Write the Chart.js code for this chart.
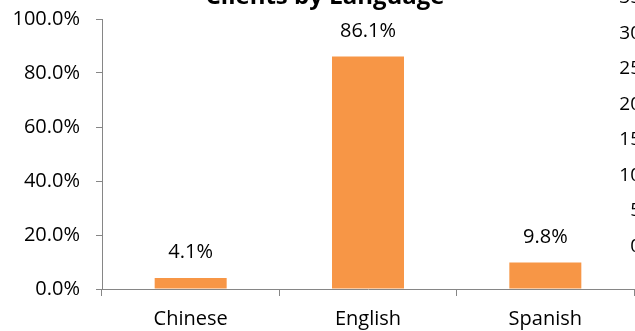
<!DOCTYPE html>
<html lang="en">
<head>
    <meta charset="UTF-8">
    <title>Clients by Language</title>
    <script src="https://cdn.jsdelivr.net/npm/chart.js"></script>
    <style>
        html, body { margin: 0; padding: 0; background: #fff; }
        .chart-wrapper { width: 635px; height: 331px; }
        canvas { width: 100% !important; height: 100% !important; }
    </style>
</head>
<body>
    <div class="chart-wrapper"><canvas id="chart"></canvas></div>

    <script>
        const titleText = 'Clients by Language';
        const languages = ['Chinese', 'English', 'Spanish'];
        const shares = [4.1, 86.1, 9.8];
        const yTicks = [0, 20, 40, 60, 80, 100];
        // axis labels of the next chart, cut off at the right edge
        const neighbourTicks = ['35', '30', '25', '20', '15', '10', '5', '0'];

        const font = '"Open Sans", sans-serif';
        const barColor = '#F79646';
        const axisColor = '#868686';

        // title sits half outside the picture, so draw it by hand
        const titlePlugin = {
            id: 'cutTitle',
            afterDraw(chart) {
                const ctx = chart.ctx;
                ctx.save();
                ctx.font = 'bold 24px ' + font;
                ctx.fillStyle = '#000';
                ctx.textAlign = 'center';
                ctx.textBaseline = 'alphabetic';
                ctx.fillText(titleText, 325, 4);
                ctx.restore();
            }
        };

        const valueLabels = {
            id: 'valueLabels',
            afterDatasetsDraw(chart) {
                const ctx = chart.ctx;
                const meta = chart.getDatasetMeta(0);
                ctx.save();
                ctx.font = '20px ' + font;
                ctx.fillStyle = '#000';
                ctx.textAlign = 'center';
                ctx.textBaseline = 'alphabetic';
                meta.data.forEach((bar, i) => {
                    ctx.fillText(shares[i].toFixed(1) + '%', bar.x, bar.y - 20);
                });
                ctx.restore();
            }
        };

        const neighbourAxis = {
            id: 'neighbourAxis',
            afterDraw(chart) {
                const ctx = chart.ctx;
                ctx.save();
                ctx.font = '19px ' + font;
                ctx.fillStyle = '#000';
                ctx.textAlign = 'right';
                ctx.textBaseline = 'middle';
                neighbourTicks.forEach((t, i) => {
                    ctx.fillText(t, 641, -2 + i * 35.5);
                });
                ctx.restore();
            }
        };

        new Chart(document.getElementById('chart'), {
            type: 'bar',
            data: {
                labels: languages,
                datasets: [{
                    data: shares,
                    backgroundColor: barColor,
                    borderWidth: 0,
                    barPercentage: 1,
                    categoryPercentage: 0.406
                }]
            },
            options: {
                responsive: true,
                maintainAspectRatio: false,
                animation: false,
                layout: { padding: { left: 10, right: 1, top: 19, bottom: 0 } },
                plugins: {
                    legend: { display: false },
                    title: { display: false },
                    tooltip: { enabled: false }
                },
                scales: {
                    x: {
                        afterFit(axis) { axis.height = 42; },
                        grid: {
                            offset: true,
                            drawOnChartArea: false,
                            drawTicks: true,
                            tickLength: 7,
                            color: axisColor
                        },
                        border: { color: axisColor, width: 1 },
                        ticks: {
                            color: '#000',
                            font: { family: font, size: 20 },
                            padding: 11
                        }
                    },
                    y: {
                        min: 0,
                        max: 100,
                        afterFit(axis) {
                            axis.width = 92;
                            axis.paddingTop = 0;
                            axis.paddingBottom = 0;
                        },
                        afterBuildTicks(axis) {
                            axis.ticks = yTicks.map(v => ({ value: v }));
                        },
                        grid: {
                            drawOnChartArea: false,
                            drawTicks: true,
                            tickLength: 6,
                            color: axisColor
                        },
                        border: { color: axisColor, width: 1 },
                        ticks: {
                            color: '#000',
                            font: { family: font, size: 20 },
                            padding: 16,
                            callback: v => v.toFixed(1) + '%'
                        }
                    }
                }
            },
            plugins: [titlePlugin, valueLabels, neighbourAxis]
        });
    </script>
</body>
</html>
